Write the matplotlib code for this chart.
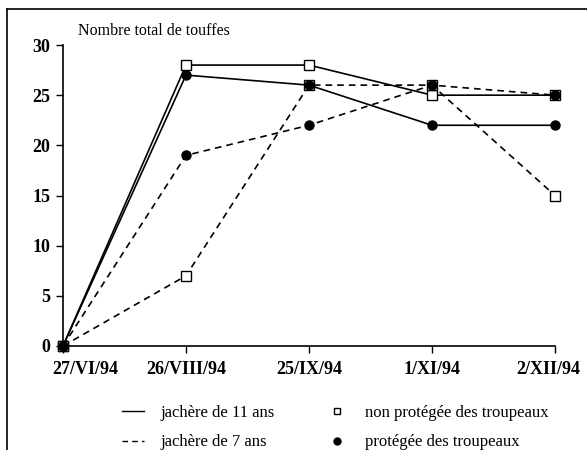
import numpy as np
import matplotlib
matplotlib.use("Agg")
import matplotlib.pyplot as plt
import matplotlib.transforms as mtransforms
from matplotlib.lines import Line2D

plt.rcParams['font.family'] = ['Liberation Serif', 'DejaVu Serif']

# dates of the counts
dates = ["27/VI/94", "26/VIII/94", "25/IX/94", "1/XI/94", "2/XII/94"]

# nombre total de touffes
j11_non_protegee = [0, 28, 28, 25, 25]
j11_protegee = [0, 27, 26, 22, 22]
j7_non_protegee = [0, 7, 26, 26, 15]
j7_protegee = [0, 19, 22, 26, 25]

yticks = [0, 5, 10, 15, 20, 25, 30]

fig = plt.figure(figsize=(5.87, 4.5), dpi=100)
ax = fig.add_axes([63 / 587, 1 - 346 / 450, (555 - 63) / 587, (346 - 45) / 450])

xx = np.arange(len(dates))
lw = 1.2
dash = (0, (4, 3))
sq = dict(marker='s', markersize=6.5, markerfacecolor='white',
          markeredgecolor='k', markeredgewidth=1.0, clip_on=False)
ci = dict(marker='o', markersize=6.5, markerfacecolor='k',
          markeredgecolor='k', clip_on=False)

# squares first, filled circles drawn on top of them
ax.plot(xx, j11_non_protegee, color='k', lw=lw, ls='-', **sq, zorder=3)
ax.plot(xx, j7_non_protegee, color='k', lw=lw, ls=dash, **sq, zorder=3)
ax.plot(xx, j11_protegee, color='k', lw=lw, ls='-', **ci, zorder=4)
ax.plot(xx, j7_protegee, color='k', lw=lw, ls=dash, **ci, zorder=4)

ax.set_xlim(0, 4)
ax.set_ylim(0, 30)
ax.set_xticks(xx)
ax.set_xticklabels(dates)
ax.set_yticks(yticks)

for side in ['top', 'right']:
    ax.spines[side].set_visible(False)
ax.spines['left'].set_linewidth(1.2)
ax.spines['bottom'].set_linewidth(1.2)
ax.tick_params(axis='both', direction='out', length=5, width=1.0,
               labelsize=13)
ax.tick_params(axis='x', pad=6)
ax.tick_params(axis='y', pad=4)
for lab in ax.get_xticklabels() + ax.get_yticklabels():
    lab.set_fontweight('bold')

# end labels are pushed inwards, as in the original figure
xlabs = ax.get_xticklabels()
xlabs[0].set_transform(xlabs[0].get_transform() +
                       mtransforms.ScaledTranslation(0.22, 0, fig.dpi_scale_trans))
xlabs[-1].set_transform(xlabs[-1].get_transform() +
                        mtransforms.ScaledTranslation(-0.07, 0, fig.dpi_scale_trans))

fig.text(78 / 587, 1 - 31 / 450, "Nombre total de touffes", fontsize=11.5,
         va='center', ha='left')

# legend
handles = [
    Line2D([], [], color='k', lw=1.0, ls='-'),
    Line2D([], [], color='k', lw=1.0, ls=dash),
    Line2D([], [], color='k', ls='none', marker='s', markersize=5,
           markerfacecolor='white', markeredgewidth=1.0),
    Line2D([], [], color='k', ls='none', marker='o', markersize=5),
]
labels = ["jachère de 11 ans", "jachère de 7 ans",
          "non protégée des troupeaux", "protégée des troupeaux"]
fig.legend(handles, labels, ncol=2, frameon=False, fontsize=12,
           loc='upper left', bbox_to_anchor=(122 / 587, 1 - 405 / 450),
           handlelength=1.3, handletextpad=1.0, columnspacing=3.1,
           labelspacing=0.8, borderaxespad=0, borderpad=0)

# scanned page frame
fig.add_artist(Line2D([7 / 587, 7 / 587], [0, 1 - 9 / 450], color='k', lw=1.2))
fig.add_artist(Line2D([7 / 587, 1], [1 - 9 / 450, 1 - 9 / 450], color='k', lw=1.2))

fig.savefig("out.png", dpi=100)
